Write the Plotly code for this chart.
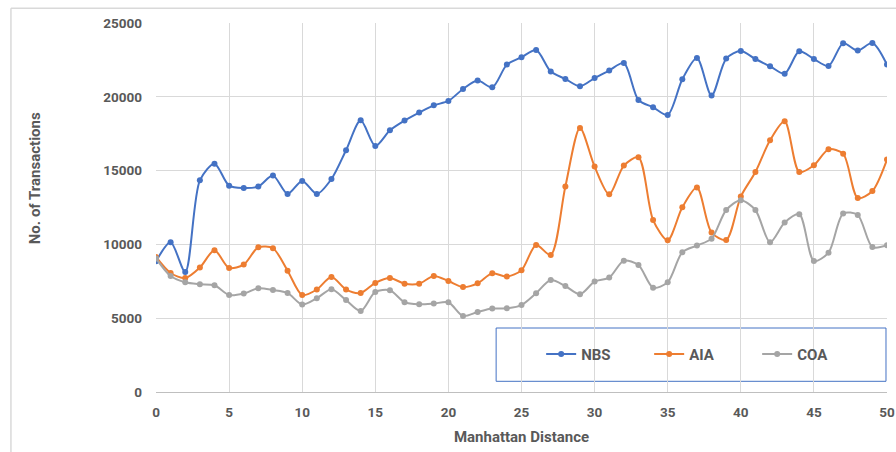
import plotly.graph_objects as go

distance = list(range(0, 51))

nbs = [8850, 10140, 8130, 14340, 15470, 13980, 13820, 13920, 14660, 13420,
       14300, 13420, 14430, 16380, 18410, 16670, 17730, 18390, 18930, 19420,
       19720, 20530, 21100, 20640, 22180, 22680, 23170, 21710, 21210, 20710,
       21270, 21780, 22290, 19780, 19290, 18770, 21190, 22630, 20080, 22590,
       23100, 22560, 22070, 21570, 23080, 22560, 22090, 23620, 23130, 23650,
       22180]

aia = [9150, 8060, 7720, 8430, 9600, 8400, 8630, 9800, 9740, 8220,
       6570, 6940, 7790, 6940, 6710, 7390, 7720, 7340, 7340, 7860,
       7520, 7110, 7360, 8040, 7820, 8250, 9960, 9280, 13920, 17890,
       15270, 13390, 15340, 15900, 11650, 10280, 12510, 13850, 10800, 10300,
       13240, 14900, 17050, 18340, 14900, 15360, 16440, 16150, 13140, 13620,
       15750]

coa = [9050, 7860, 7430, 7300, 7230, 6570, 6670, 7030, 6910, 6710,
       5920, 6350, 6960, 6230, 5490, 6780, 6890, 6080, 5940, 5990,
       6080, 5150, 5420, 5650, 5670, 5890, 6690, 7590, 7180, 6620,
       7480, 7750, 8900, 8600, 7070, 7430, 9470, 9920, 10390, 12330,
       12990, 12330, 10140, 11480, 12040, 8880, 9440, 12090, 11990, 9820,
       9940]

series_names = ["NBS", "AIA", "COA"]
series_values = [nbs, aia, coa]
series_colors = ["#4472C4", "#ED7D31", "#A5A5A5"]

x_ticks = list(range(0, 51, 5))
y_ticks = list(range(0, 25001, 5000))

FONT = "Roboto, 'Open Sans', Arial, sans-serif"
TXT = "#595959"
GRID = "#D9D9D9"

FIG_W, FIG_H = 896, 452

fig = go.Figure()
for name, vals, col in zip(series_names, series_values, series_colors):
    fig.add_trace(go.Scatter(
        x=distance, y=vals, name=name, mode="lines+markers",
        line=dict(color=col, width=2, shape="spline", smoothing=0.8),
        marker=dict(color=col, size=6, symbol="circle"),
    ))

# plot area in page pixels
L, R, T, B = 156, 886.7, 22.7, 391.7
W, H = R - L, B - T


def px(xp):
    return (xp - L) / W


def py(yp):
    return (B - yp) / H


fig.update_layout(
    width=FIG_W, height=FIG_H,
    margin=dict(l=L, r=FIG_W - R, t=T, b=FIG_H - B, pad=0, autoexpand=False),
    paper_bgcolor="white", plot_bgcolor="white",
    font=dict(family=FONT, color=TXT, size=14),
    showlegend=True,
    legend=dict(
        orientation="h", x=px(541), xanchor="left", y=py(354), yanchor="middle",
        bgcolor="rgba(0,0,0,0)", borderwidth=0,
        font=dict(family=FONT, size=15, color=TXT, weight="bold"),
        entrywidth=63, entrywidthmode="pixels",
        itemwidth=30,
    ),
    xaxis=dict(
        range=[0, 50], tickvals=x_ticks, ticktext=[str(v) for v in x_ticks],
        showgrid=True, gridcolor=GRID, gridwidth=1,
        showline=True, linecolor="#BFBFBF", linewidth=1,
        zeroline=False, ticks="", ticklabelstandoff=8, automargin=False,
        tickfont=dict(family=FONT, size=13.5, color=TXT, weight="bold"),
        title=dict(text="Manhattan Distance", standoff=12,
                   font=dict(family=FONT, size=15, color=TXT, weight="bold")),
    ),
    yaxis=dict(
        range=[0, 25000], tickvals=y_ticks, ticktext=[str(v) for v in y_ticks],
        showgrid=True, gridcolor=GRID, gridwidth=1,
        showline=False, zeroline=False, ticks="", ticklabelstandoff=13,
        automargin=False,
        tickfont=dict(family=FONT, size=13.5, color=TXT, weight="bold"),
    ),
    annotations=[dict(
        text="No. of Transactions", textangle=-90, showarrow=False,
        xref="paper", yref="paper", x=px(35), y=py(178),
        xanchor="center", yanchor="middle",
        font=dict(family=FONT, size=15, color=TXT, weight="bold"),
    )],
    shapes=[
        # legend box
        dict(type="rect", xref="paper", yref="paper",
             x0=px(496), x1=px(885.7), y0=py(381), y1=py(327.7),
             line=dict(color="#4472C4", width=1), fillcolor="white", layer="below"),
        # chart area border (top and left edges; the rest lies outside the view)
        dict(type="line", xref="paper", yref="paper",
             x0=px(11), x1=px(896), y0=py(8), y1=py(8),
             line=dict(color=GRID, width=1.5), layer="below"),
        dict(type="line", xref="paper", yref="paper",
             x0=px(11), x1=px(11), y0=py(8), y1=py(452),
             line=dict(color=GRID, width=1.5), layer="below"),
    ],
)

fig.write_html(
    "out.html",
    config={"displayModeBar": False},
    post_script="document.body.style.margin='0px';document.body.style.overflow='hidden';",
)
